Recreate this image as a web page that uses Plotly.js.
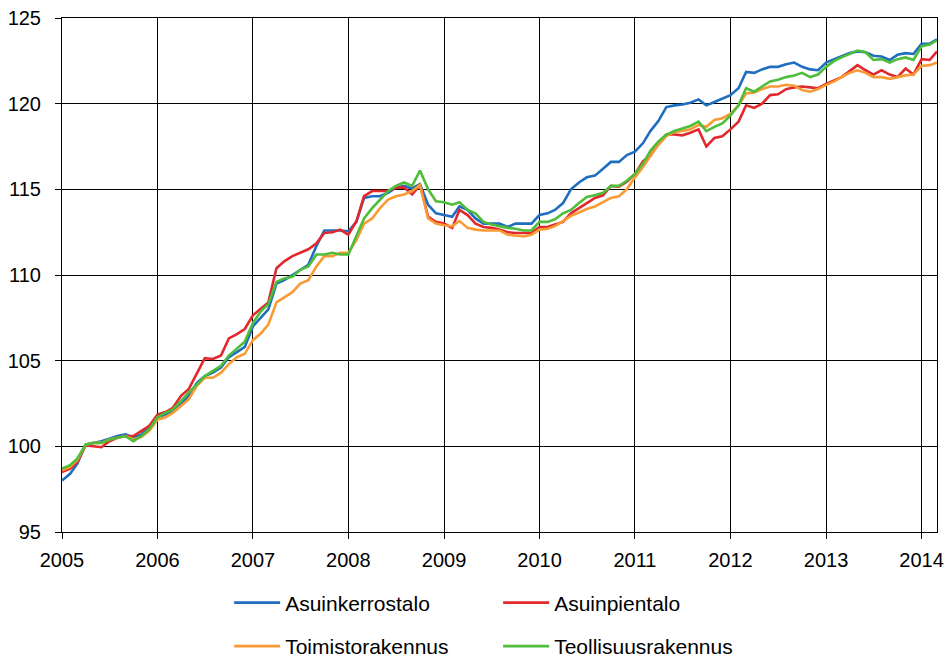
<!DOCTYPE html>
<html>
<head>
<meta charset="utf-8">
<script src="https://cdn.plot.ly/plotly-3.0.1.min.js"></script>
<style>
html,body{margin:0;padding:0;background:#fff;}
#chart{width:946px;height:659px;}
</style>
</head>
<body>
<div id="chart"></div>
<script>
// Monthly index, January 2005 – March 2014
const startYear = 2005;
const monthCount = 111;
const months = [];
for (let i = 0; i < monthCount; i++) {
  const y = startYear + Math.floor(i / 12);
  const m = (i % 12) + 1;
  months.push(y + '-' + String(m).padStart(2, '0') + '-01');
}

const seriesNames = ['Asuinkerrostalo', 'Asuinpientalo', 'Toimistorakennus', 'Teollisuusrakennus'];

const asuinkerrostalo = [
  98.0, 98.4, 99.0, 100.1, 100.2, 100.3, 100.45, 100.6, 100.7, 100.5, 100.7, 101.1,
  101.7, 101.85, 102.05, 102.45, 102.95, 103.7, 104.1, 104.3, 104.6, 105.2, 105.5, 105.8,
  107.0, 107.5, 108.0, 109.5, 109.7, 110.0, 110.3, 110.6, 111.7, 112.6, 112.6, 112.6,
  112.55, 113.1, 114.5, 114.6, 114.6, 114.8, 115.1, 115.2, 115.05, 115.3, 114.1, 113.6,
  113.5, 113.4, 114.0, 113.8, 113.3, 113.0, 113.0, 113.0, 112.8, 113.0, 113.0, 113.0,
  113.5, 113.6, 113.8, 114.2, 115.0, 115.4, 115.7, 115.8, 116.2, 116.6, 116.6, 117.0,
  117.2, 117.7, 118.4, 119.0, 119.8, 119.9, 119.95, 120.05, 120.25, 119.9, 120.1, 120.3,
  120.5, 120.9, 121.85, 121.8, 122.0, 122.15, 122.15, 122.3, 122.4, 122.15, 122.0, 121.95,
  122.4, 122.6, 122.75, 122.95, 123.05, 123.0, 122.8, 122.75, 122.55, 122.85, 122.95, 122.9,
  123.5, 123.5, 123.75
];

const asuinpientalo = [
  98.5, 98.7, 99.1, 100.05, 100.0, 99.95, 100.3, 100.5, 100.6, 100.6, 100.9, 101.2,
  101.85, 102.0, 102.25, 102.95, 103.35, 104.3, 105.15, 105.1, 105.3, 106.3, 106.55, 106.85,
  107.65, 108.05, 108.4, 110.4, 110.8, 111.1, 111.3, 111.5, 111.85, 112.45, 112.5, 112.65,
  112.35, 113.15, 114.6, 114.9, 114.9, 114.9, 115.1, 115.1, 114.7, 115.25, 113.4, 113.1,
  113.0, 112.75, 113.8, 113.5, 113.0, 112.8, 112.75, 112.65, 112.5, 112.45, 112.45, 112.45,
  112.8, 112.8, 112.95, 113.1, 113.6, 113.9, 114.2, 114.5, 114.65, 115.2, 115.15, 115.45,
  115.9, 116.65, 116.95, 117.7, 118.2, 118.2, 118.15, 118.3, 118.5, 117.5, 118.0, 118.1,
  118.5, 118.95, 119.9, 119.75, 120.0, 120.5, 120.55, 120.85, 120.95, 121.0, 120.95, 120.9,
  121.15, 121.35, 121.55, 121.9, 122.25, 121.95, 121.7, 121.95, 121.7, 121.55, 122.05, 121.7,
  122.6, 122.55, 123.05
];

const toimistorakennus = [
  98.6, 98.8, 99.2, 100.1, 100.2, 100.2, 100.4, 100.5, 100.6, 100.4, 100.55, 100.9,
  101.55, 101.7, 101.95, 102.35, 102.75, 103.55, 104.0, 104.0, 104.3, 104.8, 105.2, 105.4,
  106.2, 106.6, 107.1, 108.4, 108.7, 109.0, 109.5, 109.7, 110.5, 111.1, 111.1, 111.3,
  111.3, 112.05, 113.0, 113.3, 113.9, 114.4, 114.6, 114.7, 114.9, 115.25, 113.3, 113.0,
  112.9, 112.85, 113.15, 112.75, 112.65, 112.6, 112.6, 112.6, 112.35, 112.3, 112.25, 112.35,
  112.65, 112.7, 112.85, 113.15, 113.45, 113.65, 113.85, 114.0, 114.25, 114.5, 114.6, 115.0,
  115.7, 116.3, 116.95, 117.6, 118.1, 118.35, 118.4, 118.5, 118.75, 118.65, 119.05, 119.15,
  119.4, 119.9, 120.6, 120.65, 120.85, 121.0, 121.0, 121.1, 121.05, 120.8, 120.7, 120.85,
  121.1, 121.3, 121.55, 121.8, 121.95, 121.8, 121.55, 121.55, 121.45, 121.55, 121.65, 121.7,
  122.2, 122.25, 122.4
];

const teollisuusrakennus = [
  98.7, 98.9, 99.3, 100.1, 100.2, 100.2, 100.4, 100.5, 100.6, 100.3, 100.6, 101.0,
  101.7, 101.95, 102.15, 102.65, 103.15, 103.6, 104.1, 104.4, 104.7, 105.3, 105.7, 106.1,
  107.2, 107.9, 108.3, 109.6, 109.8, 109.9, 110.3, 110.5, 111.2, 111.2, 111.3, 111.2,
  111.2, 112.3, 113.3, 113.9, 114.4, 114.9, 115.2, 115.4, 115.2, 116.1, 115.0, 114.3,
  114.25, 114.1, 114.25, 113.8, 113.6, 113.1, 112.95, 112.85, 112.75, 112.7, 112.6, 112.6,
  113.1, 113.1, 113.25, 113.6, 113.8, 114.2, 114.55, 114.65, 114.8, 115.2, 115.2, 115.5,
  115.9, 116.5, 117.25, 117.8, 118.2, 118.4, 118.55, 118.7, 118.95, 118.4, 118.65, 118.85,
  119.3, 119.9, 120.9, 120.7, 121.0, 121.3, 121.4, 121.55, 121.65, 121.8, 121.55, 121.7,
  122.15, 122.5, 122.7, 122.9, 123.1, 123.0, 122.55, 122.6, 122.4, 122.6, 122.7, 122.55,
  123.35, 123.45, 123.7
];

const yearTicks = ['2005','2006','2007','2008','2009','2010','2011','2012','2013','2014'];
const yTicks = [95, 100, 105, 110, 115, 120, 125];

const colors = ['#1F6EC0', '#E2282D', '#F99B34', '#4DBD3A'];
const values = [asuinkerrostalo, asuinpientalo, toimistorakennus, teollisuusrakennus];
const legendIds = ['legend', 'legend', 'legend2', 'legend2'];

const traces = values.map((v, k) => ({
  x: months,
  y: v,
  type: 'scatter',
  mode: 'lines',
  name: seriesNames[k],
  line: {color: colors[k], width: 2.6},
  legend: legendIds[k]
}));

const tickFont = {family: 'Liberation Sans, Arial, sans-serif', size: 20, color: '#000'};
const legendFont = {family: 'Liberation Sans, Arial, sans-serif', size: 21, color: '#000'};

const legendBase = {
  orientation: 'h',
  x: 0.191,
  xanchor: 'left',
  yref: 'container',
  yanchor: 'middle',
  itemwidth: 46,
  entrywidth: 208,
  entrywidthmode: 'pixels',
  font: legendFont,
  bgcolor: 'rgba(0,0,0,0)',
  traceorder: 'normal'
};

const layout = {
  width: 946,
  height: 659,
  margin: {l: 62, r: 9, t: 18, b: 127},
  paper_bgcolor: '#fff',
  plot_bgcolor: '#fff',
  font: tickFont,
  showlegend: true,
  xaxis: {
    type: 'date',
    range: [months[0], months[months.length - 1]],
    tickvals: yearTicks.map(y => y + '-01-01'),
    ticktext: yearTicks,
    showgrid: true,
    gridcolor: '#000',
    gridwidth: 1,
    showline: true,
    linecolor: '#000',
    linewidth: 1,
    mirror: true,
    ticks: 'outside',
    ticklen: 6,
    tickcolor: '#000',
    ticklabelstandoff: 4,
    zeroline: false,
    tickfont: tickFont,
    fixedrange: true
  },
  yaxis: {
    range: [95, 125],
    tickvals: yTicks,
    ticktext: yTicks.map(String),
    showgrid: true,
    gridcolor: '#000',
    gridwidth: 1,
    showline: true,
    linecolor: '#000',
    linewidth: 1,
    mirror: true,
    ticks: 'outside',
    ticklen: 6,
    tickcolor: '#000',
    ticklabelstandoff: 10,
    zeroline: false,
    tickfont: tickFont,
    fixedrange: true
  },
  legend: Object.assign({}, legendBase, {y: 0.085}),
  legend2: Object.assign({}, legendBase, {y: 0.019})
};

Plotly.newPlot('chart', traces, layout, {displayModeBar: false, staticPlot: true});
</script>
</body>
</html>
